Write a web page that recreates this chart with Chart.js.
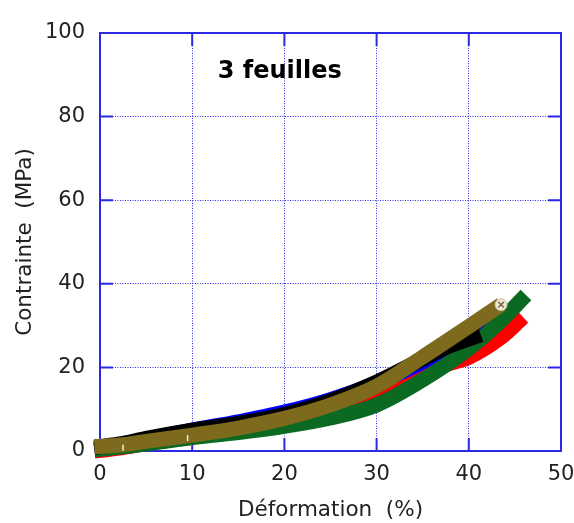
<!DOCTYPE html>
<html>
<head>
<meta charset="utf-8">
<script src="https://cdn.jsdelivr.net/npm/chart.js@4.4.1/dist/chart.umd.min.js"></script>
<style>
  html, body { margin: 0; padding: 0; background: #fff; }
</style>
</head>
<body>
<canvas id="chart" width="574" height="523"></canvas>
<script>
// strain (%) / stress (MPa), one pair of arrays per specimen
var oliveX = [-0.6, 2.5, 5, 10, 15, 20, 25, 30, 35, 40, 43.5];
var oliveY = [1.0, 1.5, 2.3, 3.8, 5.5, 7.8, 11, 15.5, 22.5, 29.8, 35];
var blackX = [-0.6, 2.5, 5, 10, 15, 20, 25, 30, 35, 38, 41.3];
var blackY = [0.9, 1.8, 3.0, 5.0, 6.6, 8.7, 12, 16.5, 22, 25.2, 27.8];
var greenX = [-0.6, 2.5, 5, 10, 15, 20, 25, 30, 35, 40, 43.4, 46.2];
var greenY = [0.3, 1.0, 1.7, 3.2, 4.4, 5.9, 7.9, 11, 17, 24.5, 31, 37.3];
var blueX = [-0.6, 2.5, 5, 10, 15, 20, 25, 30, 35, 40, 42.3];
var blueY = [0.3, 1.5, 2.8, 5.0, 7.0, 9.3, 12.3, 16.3, 21.3, 28.5, 32.3];
var redX = [-0.6, 2.5, 5, 10, 15, 20, 25, 30, 35, 38, 40, 43.4, 45.9];
var redY = [0, 0.8, 1.8, 3.3, 4.8, 6.7, 9.3, 12.8, 18.2, 21, 22.4, 27, 32];

// small marks drawn on the olive curve
var tickMarkX = [2.5, 9.5];
var tickMarkY = [0.8, 3.1];
var endMarkX = [43.5];
var endMarkY = [35];

var xTicks = [0, 10, 20, 30, 40, 50];
var yTicks = [0, 20, 40, 60, 80, 100];
var titleText = '3 feuilles';
var titlePos = { x: 19.5, y: 90.8 };

var BLUE = '#2a2ae6';
var FONT = "'DejaVu Sans', sans-serif";

function toPoints(xs, ys) {
  return xs.map(function (x, i) { return { x: x, y: ys[i] }; });
}

function curve(xs, ys, color) {
  return {
    data: toPoints(xs, ys),
    showLine: true,
    borderColor: color,
    backgroundColor: color,
    borderWidth: 15,
    borderCapStyle: 'butt',
    borderJoinStyle: 'round',
    pointRadius: 0,
    cubicInterpolationMode: 'monotone',
    clip: false
  };
}

// frame with inward tick marks, drawn under the curves
var framePlugin = {
  id: 'frame',
  beforeDatasetsDraw: function (chart) {
    var ctx = chart.ctx, a = chart.chartArea;
    var xs = chart.scales.x, ys = chart.scales.y;
    var len = 13;
    ctx.save();
    ctx.strokeStyle = BLUE;
    ctx.lineWidth = 2;
    ctx.strokeRect(a.left, a.top, a.right - a.left, a.bottom - a.top);
    ctx.beginPath();
    xTicks.forEach(function (v) {
      var px = xs.getPixelForValue(v);
      ctx.moveTo(px, a.bottom); ctx.lineTo(px, a.bottom - len);
      ctx.moveTo(px, a.top); ctx.lineTo(px, a.top + len);
    });
    yTicks.forEach(function (v) {
      var py = ys.getPixelForValue(v);
      ctx.moveTo(a.left, py); ctx.lineTo(a.left + len, py);
      ctx.moveTo(a.right, py); ctx.lineTo(a.right - len, py);
    });
    ctx.stroke();
    ctx.restore();
  },
  afterDraw: function (chart) {
    var ctx = chart.ctx;
    ctx.save();
    ctx.font = 'bold 24px ' + FONT;
    ctx.fillStyle = '#000';
    ctx.textAlign = 'center';
    ctx.textBaseline = 'middle';
    ctx.fillText(titleText, chart.scales.x.getPixelForValue(titlePos.x), chart.scales.y.getPixelForValue(titlePos.y));
    ctx.restore();
  }
};

var ctx = document.getElementById('chart').getContext('2d');
new Chart(ctx, {
  type: 'scatter',
  data: {
    datasets: [
      {
        data: toPoints(endMarkX, endMarkY),
        pointStyle: 'crossRot',
        pointRadius: 4,
        borderColor: '#7a6a3a',
        borderWidth: 1.5,
        clip: false
      },
      {
        data: toPoints(endMarkX, endMarkY),
        pointStyle: 'circle',
        pointRadius: 6,
        backgroundColor: '#ece8dc',
        borderColor: '#c8c0a4',
        borderWidth: 1,
        clip: false
      },
      {
        data: toPoints(tickMarkX, tickMarkY),
        pointStyle: 'line',
        rotation: 90,
        pointRadius: 3,
        borderColor: '#f4efd8',
        borderWidth: 1.5
      },
      curve(oliveX, oliveY, '#7d6a1c'),
      curve(blackX, blackY, '#000000'),
      curve(greenX, greenY, '#0b6a22'),
      curve(blueX, blueY, '#0000ff'),
      curve(redX, redY, '#ff0000')
    ]
  },
  options: {
    responsive: false,
    animation: false,
    layout: { padding: { left: 0, right: 13, top: 33, bottom: 0 } },
    plugins: {
      legend: { display: false },
      tooltip: { enabled: false }
    },
    scales: {
      x: {
        type: 'linear',
        min: 0,
        max: 50,
        afterFit: function (s) { s.height = 72; s.paddingLeft = 0; s.paddingRight = 0; },
        afterBuildTicks: function (s) { s.ticks = xTicks.map(function (v) { return { value: v }; }); },
        ticks: { color: '#222', padding: 11, font: { family: FONT, size: 21 } },
        grid: { color: BLUE, lineWidth: 1, drawTicks: false },
        border: { display: false, dash: [1, 1.5] },
        title: {
          display: true,
          text: 'Déformation  (%)',
          color: '#222',
          padding: { top: 0, bottom: 0 },
          font: { family: FONT, size: 21.5 }
        }
      },
      y: {
        type: 'linear',
        min: 0,
        max: 100,
        afterFit: function (s) { s.width = 100; s.paddingTop = 0; s.paddingBottom = 0; },
        afterBuildTicks: function (s) { s.ticks = yTicks.map(function (v) { return { value: v }; }); },
        ticks: { color: '#222', padding: 15, font: { family: FONT, size: 21 } },
        grid: { color: BLUE, lineWidth: 1, drawTicks: false },
        border: { display: false, dash: [1, 1.5] },
        title: {
          display: true,
          text: 'Contrainte  (MPa)',
          color: '#222',
          padding: { top: 13, bottom: 0 },
          font: { family: FONT, size: 21.5 }
        }
      }
    }
  },
  plugins: [framePlugin]
});
</script>
</body>
</html>
